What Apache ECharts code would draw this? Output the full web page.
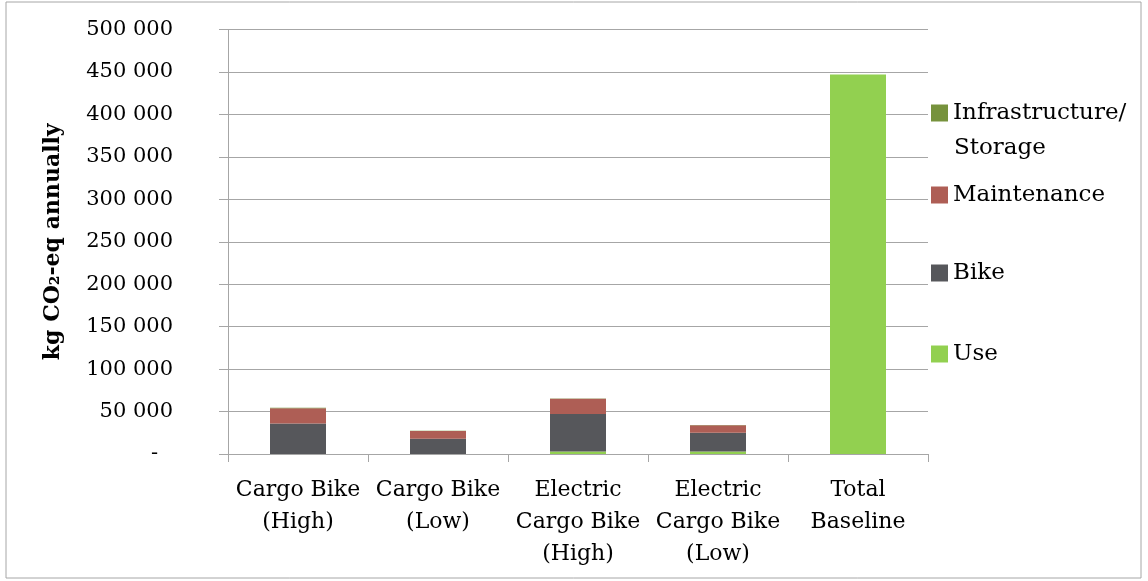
<!DOCTYPE html>
<html>
<head>
<meta charset="utf-8">
<script src="https://cdn.jsdelivr.net/npm/echarts@6/dist/echarts.min.js"></script>
<style>
  html, body { margin: 0; padding: 0; background: #fff; }
  #chart { width: 1148px; height: 581px; }
</style>
</head>
<body>
<div id="chart"></div>
<script>
  // categories and stacked values (kg CO2-eq annually)
  const categories = ['Cargo Bike\n(High)', 'Cargo Bike\n(Low)', 'Electric\nCargo Bike\n(High)', 'Electric\nCargo Bike\n(Low)', 'Total\nBaseline']
  const useValues = [0, 0, 3000, 3000, 447000]
  const bikeValues = [36000, 18000, 44000, 22000, 0]
  const maintenanceValues = [18000, 9000, 18000, 9000, 0]
  const infrastructureValues = [400, 300, 400, 300, 0]
  const yTicks = [0, 50000, 100000, 150000, 200000, 250000, 300000, 350000, 400000, 450000, 500000]

  const font = 'DejaVu Serif'
  const gridColor = '#a6a6a6'

  const chart = echarts.init(document.getElementById('chart'))

  const legendItem = (name, centerY) => ({
    orient: 'vertical',
    left: 931,
    top: centerY - 13,
    padding: 0,
    itemWidth: 17,
    itemHeight: 17,
    itemGap: 6,
    icon: 'rect',
    selectedMode: false,
    data: [name],
    textStyle: { fontFamily: font, fontSize: 23, color: '#000', lineHeight: 26 }
  })

  chart.setOption({
    animation: false,
    backgroundColor: '#fff',
    grid: { left: 228, right: 220, top: 29.5, bottom: 127 },
    legend: [
      legendItem('Infrastructure/', 113),
      legendItem('Maintenance', 195),
      legendItem('Bike', 273),
      legendItem('Use', 354)
    ],
    graphic: [
      {
        type: 'rect',
        silent: true,
        shape: { x: 6, y: 2, width: 1135, height: 576 },
        style: { fill: 'none', stroke: '#a6a6a6', lineWidth: 1 }
      },
      {
        type: 'text',
        left: 954,
        top: 137,
        silent: true,
        style: { text: 'Storage', font: '23px "DejaVu Serif"', fill: '#000' }
      }
    ],
    xAxis: {
      type: 'category',
      data: categories,
      axisLine: { lineStyle: { color: gridColor, width: 1 } },
      axisTick: { show: true, length: 8, lineStyle: { color: gridColor } },
      axisLabel: {
        fontFamily: font,
        fontSize: 22,
        color: '#000',
        lineHeight: 32,
        margin: 20,
        interval: 0
      }
    },
    yAxis: {
      type: 'value',
      min: yTicks[0],
      max: yTicks[yTicks.length - 1],
      interval: 50000,
      name: 'kg CO₂-eq annually',
      nameLocation: 'middle',
      nameGap: 164,
      nameTextStyle: { fontFamily: font, fontSize: 22, fontWeight: 'bold', color: '#000' },
      axisLine: { show: true, lineStyle: { color: gridColor, width: 1 } },
      axisTick: { show: true, length: 9, lineStyle: { color: gridColor } },
      splitLine: { lineStyle: { color: gridColor, width: 1 } },
      axisLabel: {
        fontFamily: font,
        fontSize: 21,
        color: '#000',
        margin: 55,
        formatter: (v) => (v === 0 ? '{d|-}' : String(v).replace(/\B(?=(\d{3})+(?!\d))/g, ' ')),
        rich: { d: { fontFamily: font, fontSize: 21, color: '#000', padding: [0, 15, 0, 0] } }
      }
    },
    series: [
      { name: 'Use', type: 'bar', stack: 'total', data: useValues, barCategoryGap: '60%', itemStyle: { color: '#92d050' } },
      { name: 'Bike', type: 'bar', stack: 'total', data: bikeValues, itemStyle: { color: '#56575b' } },
      { name: 'Maintenance', type: 'bar', stack: 'total', data: maintenanceValues, itemStyle: { color: '#ae5e55' } },
      { name: 'Infrastructure/', type: 'bar', stack: 'total', data: infrastructureValues, itemStyle: { color: '#76923c' } }
    ]
  })
</script>
</body>
</html>
